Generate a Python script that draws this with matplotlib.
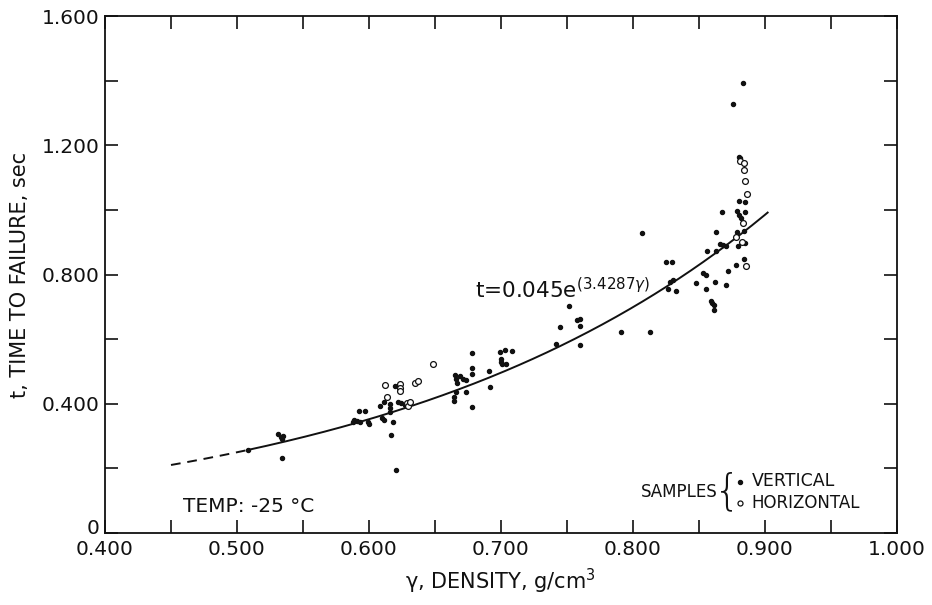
import numpy as np
import matplotlib
matplotlib.use("Agg")
import matplotlib.pyplot as plt
import matplotlib.transforms as mtransforms

plt.rcParams['font.family'] = ['DejaVu Sans']

# ---- data ----
vertical_x = [0.508, 0.531, 0.533, 0.535, 0.534, 0.534,
              0.588, 0.589, 0.591, 0.593, 0.5925, 0.597, 0.5995, 0.600,
              0.6096, 0.611, 0.608, 0.611, 0.6197, 0.616, 0.616, 0.616,
              0.6184, 0.617, 0.6205, 0.622, 0.6245, 0.627,
              0.6655, 0.666, 0.667, 0.669, 0.671, 0.666, 0.6644, 0.6644,
              0.6735, 0.6735, 0.6783, 0.678, 0.678, 0.6778, 0.6912, 0.6917,
              0.700, 0.700, 0.701, 0.6992, 0.703, 0.708, 0.7038,
              0.7417, 0.7598, 0.7447, 0.7518, 0.7578, 0.7598, 0.7598,
              0.7907, 0.8129, 0.807, 0.825, 0.8293, 0.8305, 0.828, 0.8268, 0.8326,
              0.848, 0.8831, 0.876, 0.881, 0.8805, 0.8805, 0.8848, 0.8677,
              0.8785, 0.880, 0.882, 0.8848, 0.8629, 0.8785, 0.8843,
              0.8848, 0.8659, 0.8684, 0.8705, 0.8798, 0.8558, 0.8629,
              0.8843, 0.878, 0.8528, 0.8553, 0.8722, 0.8621, 0.8705, 0.8553,
              0.859, 0.860, 0.861, 0.8614]
vertical_y = [0.257, 0.305, 0.296, 0.300, 0.290, 0.231,
              0.345, 0.350, 0.347, 0.343, 0.378, 0.378, 0.343, 0.338,
              0.355, 0.350, 0.393, 0.405, 0.456, 0.398, 0.386, 0.376,
              0.345, 0.303, 0.195, 0.406, 0.401, 0.396,
              0.490, 0.478, 0.465, 0.485, 0.478, 0.437, 0.422, 0.410,
              0.474, 0.437, 0.556, 0.512, 0.491, 0.389, 0.502, 0.451,
              0.540, 0.530, 0.522, 0.561, 0.567, 0.564, 0.522,
              0.585, 0.582, 0.639, 0.701, 0.659, 0.661, 0.641,
              0.621, 0.621, 0.928, 0.840, 0.838, 0.783, 0.778, 0.754, 0.749,
              0.775, 1.394, 1.328, 1.160, 1.165, 1.029, 1.023, 0.993,
              0.995, 0.985, 0.974, 0.993, 0.930, 0.930, 0.936,
              0.897, 0.894, 0.892, 0.889, 0.889, 0.874, 0.874,
              0.848, 0.828, 0.806, 0.799, 0.812, 0.778, 0.768, 0.754,
              0.719, 0.713, 0.706, 0.690]

horizontal_x = [0.6134, 0.6121, 0.6235, 0.6235, 0.6235, 0.6286, 0.6298, 0.631,
                0.6348, 0.6373, 0.6482,
                0.881, 0.8843, 0.884, 0.8848, 0.8861, 0.8831, 0.878, 0.8823, 0.8856]
horizontal_y = [0.420, 0.458, 0.460, 0.450, 0.441, 0.402, 0.393, 0.406,
                0.465, 0.471, 0.523,
                1.150, 1.145, 1.124, 1.088, 1.050, 0.959, 0.915, 0.902, 0.825]

fit_a = 0.045
fit_b = 3.4287
fit_dashed_range = (0.45, 0.508)
fit_solid_range = (0.508, 0.902)

x_ticks = [0.4, 0.5, 0.6, 0.7, 0.8, 0.9, 1.0]
x_ticklabels = ['0.400', '0.500', '0.600', '0.700', '0.800', '0.900', '1.000']
y_ticks = [0, 0.4, 0.8, 1.2, 1.6]
y_ticklabels = ['0', '0.400', '0.800', '1.200', '1.600']

# ---- figure ----
fig = plt.figure(figsize=(9.32, 6.05), dpi=100)
ax = fig.add_axes([105/932, (605-533)/605, 792/932, 517/605])
ax.set_xlim(0.4, 1.0)
ax.set_ylim(0, 1.6)

ink = '#111111'

xd = np.linspace(*fit_dashed_range, 30)
ax.plot(xd, fit_a*np.exp(fit_b*xd), color=ink, lw=1.4, ls=(0, (5, 3.5)))
xs = np.linspace(*fit_solid_range, 300)
ax.plot(xs, fit_a*np.exp(fit_b*xs), color=ink, lw=1.4)

ax.plot(vertical_x, vertical_y, ls='none', marker='o', ms=2.9, color=ink, mec=ink)
ax.plot(horizontal_x, horizontal_y, ls='none', marker='o', ms=4.2,
        mfc='white', mec=ink, mew=0.9)

ax.set_xticks(x_ticks)
ax.set_xticklabels(x_ticklabels)
ax.set_xticks(np.arange(0.45, 1.0, 0.1), minor=True)
ax.set_yticks(y_ticks)
ax.set_yticklabels(y_ticklabels)
ax.set_yticks(np.arange(0.2, 1.6, 0.4), minor=True)

for s in ax.spines.values():
    s.set_linewidth(1.3)
    s.set_color(ink)
ax.tick_params(which='both', direction='in', length=9.5, width=1.2, color=ink,
               top=True, right=True, labelsize=14.5, labelcolor=ink)
ax.tick_params(axis='x', which='major', pad=5)
ax.tick_params(axis='y', which='major', pad=4)

# lift the "0" label slightly so it clears the 0.400 label below it
zero_lbl = ax.get_yticklabels()[0]
zero_lbl.set_transform(zero_lbl.get_transform() +
                       mtransforms.ScaledTranslation(0, 5/72, fig.dpi_scale_trans))

ax.set_xlabel('γ, DENSITY, g/cm$^3$', fontsize=15, color=ink, labelpad=6)
ax.set_ylabel('t, TIME TO FAILURE, sec', fontsize=15, color=ink, labelpad=8)

ax.text(0.6803, 0.752, 't=0.045e$^{(3.4287\\gamma)}$', fontsize=15.5, color=ink,
        ha='left', va='center')
ax.text(0.4589, 0.0815, 'TEMP: -25 °C', fontsize=14.5, color=ink,
        ha='left', va='center')

# legend drawn manually
ax.text(0.8644, 0.127, 'SAMPLES', fontsize=12, color=ink, ha='right', va='center')
ax.text(0.8715, 0.128, '{', fontsize=30, color=ink, ha='center', va='center',
        fontweight='light', family='DejaVu Sans')
ax.plot([0.881], [0.158], ls='none', marker='o', ms=2.9, color=ink)
ax.plot([0.881], [0.094], ls='none', marker='o', ms=3.6, mfc='white', mec=ink, mew=0.9)
ax.text(0.890, 0.160, 'VERTICAL', fontsize=12.5, color=ink, ha='left', va='center')
ax.text(0.890, 0.094, 'HORIZONTAL', fontsize=12, color=ink, ha='left', va='center')

fig.savefig('out.png', dpi=100)
